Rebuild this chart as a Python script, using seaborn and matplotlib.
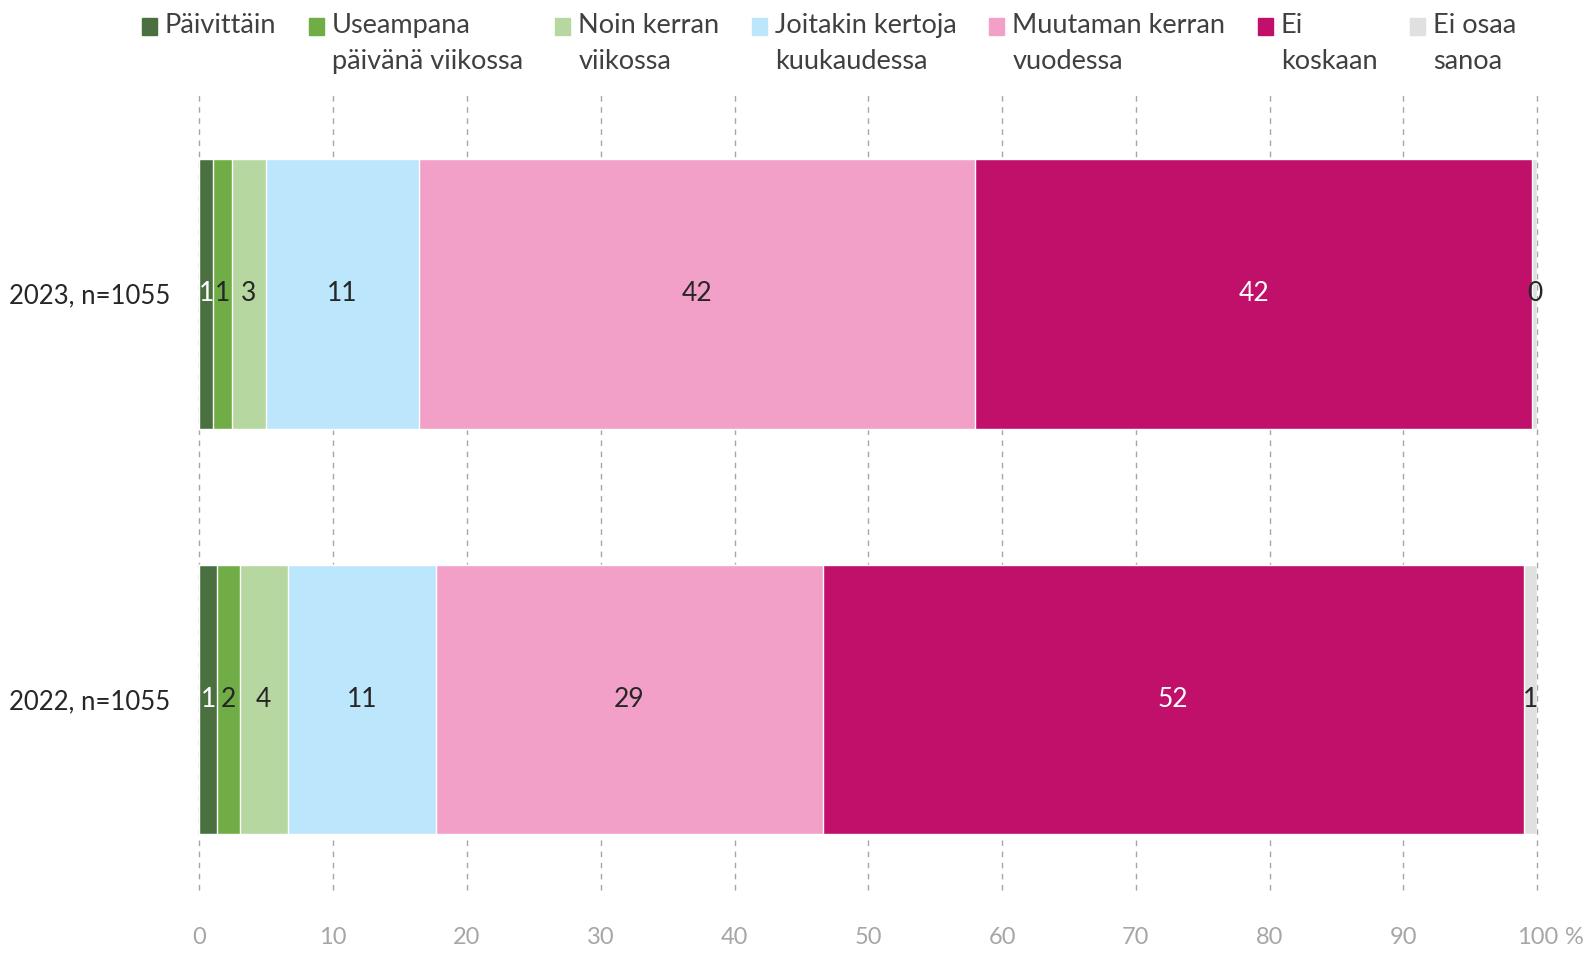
import numpy as np
import pandas as pd
import seaborn as sns
import matplotlib.pyplot as plt
from matplotlib.legend_handler import HandlerPatch

years = ["2023, n=1055", "2022, n=1055"]
categories = [
    "Päivittäin\n ",
    "Useampana\npäivänä viikossa",
    "Noin kerran\nviikossa",
    "Joitakin kertoja\nkuukaudessa",
    "Muutaman kerran\nvuodessa",
    "Ei\nkoskaan",
    "Ei osaa\nsanoa",
]
values_2023 = [1.0, 1.4, 2.6, 11.4, 41.6, 41.6, 0.4]
values_2022 = [1.3, 1.7, 3.6, 11.1, 28.9, 52.4, 1.0]
colors = ["#4B7040", "#70AD47", "#B6D8A0", "#BCE6FB", "#F3A0C8", "#C0106A", "#E0E0E0"]
label_colors = ["white", "#262626", "#262626", "#262626", "#262626", "white", "#262626"]
ticks = [0, 10, 20, 30, 40, 50, 60, 70, 80, 90, 100]

df = pd.DataFrame([values_2023, values_2022], index=years, columns=categories)
cum = df.cumsum(axis=1)

sns.set_theme(style="white")
plt.rcParams["font.family"] = ["Lato", "DejaVu Sans"]

fig = plt.figure(figsize=(15.88, 9.58), dpi=100)
ax = fig.add_axes([0.1256, 0.071, 0.8424, 0.834])

# stacked bars: draw cumulative totals from the last category backwards
for i in range(len(categories) - 1, -1, -1):
    cat = categories[i]
    sns.barplot(x=cum[cat].values, y=years, color=colors[i], orient="h",
                width=0.665, saturation=1, ax=ax, zorder=2)

# data labels
for r, year in enumerate(years):
    for i, cat in enumerate(categories):
        v = df.loc[year, cat]
        center = cum.loc[year, cat] - v / 2
        ax.text(center, r, f"{v:.0f}", ha="center", va="center",
                fontsize=19, color=label_colors[i], zorder=3)

ax.set_xlim(0, 100)
ax.set_ylim(1.47, -0.5)
ax.set_xticks(ticks)
ax.set_xticklabels([str(t) for t in ticks])
ax.tick_params(axis="x", length=0, pad=27, labelsize=17, labelcolor="#A6A6A6")
ax.tick_params(axis="y", length=0, pad=21, labelsize=18.5, labelcolor="#262626")
last = ax.get_xticklabels()[-1]
ax.annotate("%", xy=(1, 0), xycoords=last, xytext=(5, 0),
            textcoords="offset points", ha="left", va="bottom",
            fontsize=17, color="#A6A6A6")
ax.set_xlabel("")
ax.set_ylabel("")
for x in ticks:
    ax.axvline(x, color="#A6A6A6", linestyle=(0, (4, 4)), linewidth=1,
               zorder=1, clip_on=False)
for s in ax.spines.values():
    s.set_visible(False)


# legend markers sit next to the first line of each label
def top_square(legend, orig_handle, xdescent, ydescent, width, height, fontsize):
    return plt.Rectangle((-xdescent, -ydescent + 12.5), width, height)


handles = [plt.Rectangle((0, 0), 1, 1, color=c) for c in colors]
leg = fig.legend(handles, categories, loc="upper center", ncol=7,
                 bbox_to_anchor=(0.522, 1.012), frameon=False, fontsize=19.5,
                 handlelength=0.55, handleheight=0.55, handletextpad=0.3,
                 columnspacing=1.2, labelcolor="#404040",
                 handler_map={plt.Rectangle: HandlerPatch(patch_func=top_square)})
for t in leg.get_texts():
    t.set_linespacing(1.57)

fig.savefig("out.png", dpi=100)
